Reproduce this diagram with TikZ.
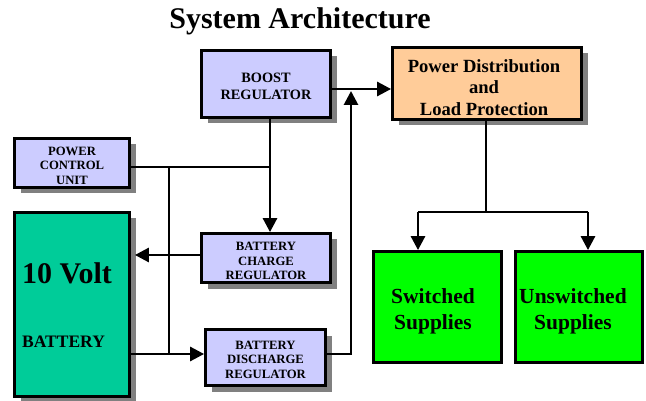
\documentclass[tikz,border=0pt]{standalone}
\usepackage{fontspec}
\setmainfont{Liberation Serif}
\usetikzlibrary{arrows.meta,shadows,calc}
\definecolor{lav}{HTML}{CCCCFF}
\definecolor{peach}{HTML}{FFCC99}
\definecolor{cellgreen}{HTML}{00CC99}
\definecolor{supgreen}{HTML}{00FF00}
\definecolor{shadowgray}{HTML}{808080}
\begin{document}
\begin{tikzpicture}[x=1pt,y=-1pt,
  box/.style={draw=black, line width=2.8pt, inner sep=0pt, minimum width=#1},
  shadowed/.style={drop shadow={shadow xshift=6pt, shadow yshift=-6pt,
    fill=shadowgray, opacity=1}},
  txt/.style={inner sep=0pt, align=center, font=\bfseries\fontsize{#1}{#1*1.16}\selectfont},
  small/.style={inner sep=0pt, align=center, font=\bfseries\fontsize{12.7}{14.5}\selectfont},
  wire/.style={line width=2.8pt},
  arr/.style={wire, -{Triangle[length=14pt,width=14pt]}}]
\useasboundingbox (0,0) rectangle (646,401);

% title
\node[font=\bfseries\fontsize{30}{34}\selectfont] (title) at (300,21) {System Architecture};

% regulator and control blocks
\node[box=129pt, minimum height=67pt, fill=lav, shadowed] (boost) at (266,84) {};
\node[inner sep=0pt, align=center, font=\bfseries\fontsize{14.3}{16.7}\selectfont]
  (boosttxt) at (266,86) {BOOST\\REGULATOR};
\node[box=115pt, minimum height=49pt, fill=lav, shadowed] (pcu) at (72,163) {};
\node[small] (pcutxt) at (72,165.5) {POWER\\CONTROL\\UNIT};
\node[box=129pt, minimum height=49pt, fill=lav, shadowed] (chg) at (266,258) {};
\node[small] (chgtxt) at (266,261) {BATTERY\\CHARGE\\REGULATOR};
\node[box=120pt, minimum height=56pt, fill=lav, shadowed] (dis) at (265.5,357.5) {};
\node[small] (distxt) at (265.5,359.5) {BATTERY\\DISCHARGE\\REGULATOR};

% battery
\node[box=115pt, minimum height=184pt, fill=cellgreen, shadowed] (bat) at (72,304.5) {};
\node[anchor=west, font=\bfseries\fontsize{30}{32}\selectfont, inner sep=0pt] (volt) at (22,273) {10 Volt};
\node[anchor=west, font=\bfseries\fontsize{17.5}{20}\selectfont, inner sep=0pt] (battxt) at (22,342) {BATTERY};

% distribution and supplies
\node[box=189pt, minimum height=72pt, fill=peach, shadowed] (pd) at (487,83.5) {};
\node[inner sep=0pt, align=center, font=\bfseries\fontsize{18.6}{21.5}\selectfont]
  (pdtxt) at (484,87.5) {Power Distribution\\and\\Load Protection};
\node[box=128pt, minimum height=111pt, fill=supgreen] (sw) at (437.5,307) {};
\node[inner sep=0pt, align=center, font=\bfseries\fontsize{21.5}{26}\selectfont]
  (swtxt) at (433,311) {Switched\\Supplies};
\node[box=127pt, minimum height=111pt, fill=supgreen] (usw) at (579,307) {};
\node[inner sep=0pt, align=center, font=\bfseries\fontsize{21.5}{26}\selectfont]
  (uswtxt) at (573,311) {Unswitched\\Supplies};

% junction points
\coordinate (jb) at (270,167);
\coordinate (jp) at (169,167);
\coordinate (jd) at (169,354);
\coordinate (mrg) at (351,91);
\coordinate (split) at (486,212);
\coordinate (sl) at (418,212);
\coordinate (sr) at (588,212);

% boost output to distribution
\draw[arr] ([yshift=-5pt]boost.east) -- ([yshift=-5pt]boost.east -| pd.west);
% discharge output joins the bus
\draw[arr] (dis.east |- jd) -| (mrg);
% boost feeds the charge regulator
\draw[arr] ([xshift=4pt]boost.south) -- ([xshift=4pt]chg.north);
% power control unit lines
\draw[wire] (pcu.east |- jp) -- (jb);
\draw[wire] (jp) -- (jd);
% charge regulator into battery
\draw[arr] ([yshift=3pt]chg.west) -- ($([yshift=3pt]chg.west -| bat.east)+(4,0)$);
% battery into discharge regulator
\draw[arr] (bat.east |- jd) -- (dis.west |- jd);
% distribution to the supplies
\draw[wire] (pd.south -| split) -- (split);
\draw[wire] (sl) -- (sr);
\draw[arr] (sl) -- (sl |- sw.north);
\draw[arr] (sr) -- (sr |- usw.north);
\end{tikzpicture}
\end{document}
